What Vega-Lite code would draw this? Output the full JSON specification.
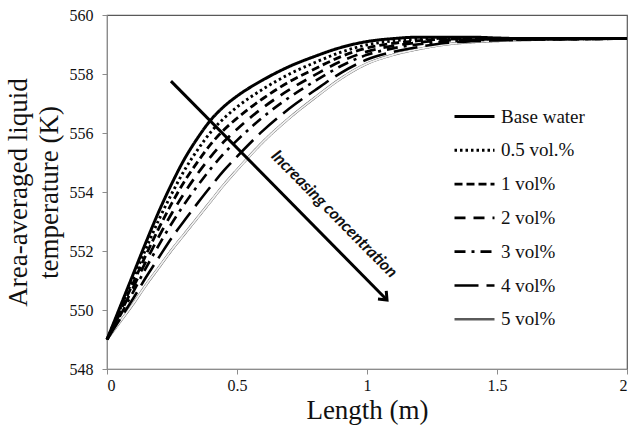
{
  "$schema": "https://vega.github.io/schema/vega-lite/v6.json",
  "width": 520,
  "height": 354,
  "autosize": {"type": "none"},
  "padding": {"left": 107, "top": 15, "right": 3, "bottom": 66},
  "config": {
    "view": {"stroke": "#595959", "strokeWidth": 1.2},
    "font": "Liberation Serif",
    "axis": {"grid": false, "domainColor": "#8c8c8c", "tickColor": "#8c8c8c", "tickSize": 5, "labelColor": "#111", "labelFont": "Liberation Serif", "labelFontSize": 16, "titleFont": "Liberation Serif", "titleFontSize": 27, "titleFontWeight": "normal", "titleColor": "#111"},
    "legend": {"orient": "none", "legendX": 346, "legendY": 80, "symbolType": "stroke", "symbolSize": 1600, "labelFont": "Liberation Serif", "labelFontSize": 19, "labelColor": "#111", "labelOffset": 5, "rowPadding": 1.8, "labelLimit": 200}
  },
  "datasets": {
    "curves": [
      {"series": "5 vol%", "length": 0, "temp": 549.0},
      {"series": "5 vol%", "length": 0.05, "temp": 549.6},
      {"series": "5 vol%", "length": 0.1, "temp": 550.2},
      {"series": "5 vol%", "length": 0.15, "temp": 550.85},
      {"series": "5 vol%", "length": 0.2, "temp": 551.45},
      {"series": "5 vol%", "length": 0.25, "temp": 552.05},
      {"series": "5 vol%", "length": 0.3, "temp": 552.6},
      {"series": "5 vol%", "length": 0.35, "temp": 553.15},
      {"series": "5 vol%", "length": 0.4, "temp": 553.7},
      {"series": "5 vol%", "length": 0.45, "temp": 554.25},
      {"series": "5 vol%", "length": 0.5, "temp": 554.75},
      {"series": "5 vol%", "length": 0.6, "temp": 555.7},
      {"series": "5 vol%", "length": 0.7, "temp": 556.5},
      {"series": "5 vol%", "length": 0.8, "temp": 557.2},
      {"series": "5 vol%", "length": 0.9, "temp": 557.85},
      {"series": "5 vol%", "length": 1.0, "temp": 558.35},
      {"series": "5 vol%", "length": 1.1, "temp": 558.65},
      {"series": "5 vol%", "length": 1.2, "temp": 558.85},
      {"series": "5 vol%", "length": 1.3, "temp": 559.0},
      {"series": "5 vol%", "length": 1.4, "temp": 559.08},
      {"series": "5 vol%", "length": 1.5, "temp": 559.12},
      {"series": "5 vol%", "length": 1.6, "temp": 559.15},
      {"series": "5 vol%", "length": 1.8, "temp": 559.18},
      {"series": "5 vol%", "length": 2.0, "temp": 559.2},

      {"series": "4 vol%", "length": 0, "temp": 549.0},
      {"series": "4 vol%", "length": 0.05, "temp": 549.69},
      {"series": "4 vol%", "length": 0.1, "temp": 550.38},
      {"series": "4 vol%", "length": 0.15, "temp": 551.11},
      {"series": "4 vol%", "length": 0.2, "temp": 551.79},
      {"series": "4 vol%", "length": 0.25, "temp": 552.46},
      {"series": "4 vol%", "length": 0.3, "temp": 553.06},
      {"series": "4 vol%", "length": 0.35, "temp": 553.64},
      {"series": "4 vol%", "length": 0.4, "temp": 554.2},
      {"series": "4 vol%", "length": 0.45, "temp": 554.73},
      {"series": "4 vol%", "length": 0.5, "temp": 555.2},
      {"series": "4 vol%", "length": 0.6, "temp": 556.08},
      {"series": "4 vol%", "length": 0.7, "temp": 556.82},
      {"series": "4 vol%", "length": 0.8, "temp": 557.45},
      {"series": "4 vol%", "length": 0.9, "temp": 558.04},
      {"series": "4 vol%", "length": 1.0, "temp": 558.49},
      {"series": "4 vol%", "length": 1.1, "temp": 558.75},
      {"series": "4 vol%", "length": 1.2, "temp": 558.92},
      {"series": "4 vol%", "length": 1.3, "temp": 559.05},
      {"series": "4 vol%", "length": 1.4, "temp": 559.11},
      {"series": "4 vol%", "length": 1.5, "temp": 559.14},
      {"series": "4 vol%", "length": 1.6, "temp": 559.16},
      {"series": "4 vol%", "length": 1.8, "temp": 559.18},
      {"series": "4 vol%", "length": 2.0, "temp": 559.2},

      {"series": "3 vol%", "length": 0, "temp": 549.0},
      {"series": "3 vol%", "length": 0.05, "temp": 549.8},
      {"series": "3 vol%", "length": 0.1, "temp": 550.6},
      {"series": "3 vol%", "length": 0.15, "temp": 551.43},
      {"series": "3 vol%", "length": 0.2, "temp": 552.21},
      {"series": "3 vol%", "length": 0.25, "temp": 552.95},
      {"series": "3 vol%", "length": 0.3, "temp": 553.62},
      {"series": "3 vol%", "length": 0.35, "temp": 554.23},
      {"series": "3 vol%", "length": 0.4, "temp": 554.8},
      {"series": "3 vol%", "length": 0.45, "temp": 555.31},
      {"series": "3 vol%", "length": 0.5, "temp": 555.75},
      {"series": "3 vol%", "length": 0.6, "temp": 556.54},
      {"series": "3 vol%", "length": 0.7, "temp": 557.2},
      {"series": "3 vol%", "length": 0.8, "temp": 557.76},
      {"series": "3 vol%", "length": 0.9, "temp": 558.27},
      {"series": "3 vol%", "length": 1.0, "temp": 558.65},
      {"series": "3 vol%", "length": 1.1, "temp": 558.87},
      {"series": "3 vol%", "length": 1.2, "temp": 559.01},
      {"series": "3 vol%", "length": 1.3, "temp": 559.1},
      {"series": "3 vol%", "length": 1.4, "temp": 559.15},
      {"series": "3 vol%", "length": 1.5, "temp": 559.16},
      {"series": "3 vol%", "length": 1.6, "temp": 559.17},
      {"series": "3 vol%", "length": 1.8, "temp": 559.19},
      {"series": "3 vol%", "length": 2.0, "temp": 559.2},

      {"series": "2 vol%", "length": 0, "temp": 549.0},
      {"series": "2 vol%", "length": 0.05, "temp": 549.88},
      {"series": "2 vol%", "length": 0.1, "temp": 550.75},
      {"series": "2 vol%", "length": 0.15, "temp": 551.65},
      {"series": "2 vol%", "length": 0.2, "temp": 552.5},
      {"series": "2 vol%", "length": 0.25, "temp": 553.29},
      {"series": "2 vol%", "length": 0.3, "temp": 554.0},
      {"series": "2 vol%", "length": 0.35, "temp": 554.64},
      {"series": "2 vol%", "length": 0.4, "temp": 555.21},
      {"series": "2 vol%", "length": 0.45, "temp": 555.71},
      {"series": "2 vol%", "length": 0.5, "temp": 556.13},
      {"series": "2 vol%", "length": 0.6, "temp": 556.86},
      {"series": "2 vol%", "length": 0.7, "temp": 557.46},
      {"series": "2 vol%", "length": 0.8, "temp": 557.97},
      {"series": "2 vol%", "length": 0.9, "temp": 558.43},
      {"series": "2 vol%", "length": 1.0, "temp": 558.76},
      {"series": "2 vol%", "length": 1.1, "temp": 558.95},
      {"series": "2 vol%", "length": 1.2, "temp": 559.07},
      {"series": "2 vol%", "length": 1.3, "temp": 559.14},
      {"series": "2 vol%", "length": 1.4, "temp": 559.17},
      {"series": "2 vol%", "length": 1.5, "temp": 559.18},
      {"series": "2 vol%", "length": 1.6, "temp": 559.18},
      {"series": "2 vol%", "length": 1.8, "temp": 559.19},
      {"series": "2 vol%", "length": 2.0, "temp": 559.2},

      {"series": "1 vol%", "length": 0, "temp": 549.0},
      {"series": "1 vol%", "length": 0.05, "temp": 549.95},
      {"series": "1 vol%", "length": 0.1, "temp": 550.9},
      {"series": "1 vol%", "length": 0.15, "temp": 551.87},
      {"series": "1 vol%", "length": 0.2, "temp": 552.78},
      {"series": "1 vol%", "length": 0.25, "temp": 553.63},
      {"series": "1 vol%", "length": 0.3, "temp": 554.39},
      {"series": "1 vol%", "length": 0.35, "temp": 555.04},
      {"series": "1 vol%", "length": 0.4, "temp": 555.63},
      {"series": "1 vol%", "length": 0.45, "temp": 556.11},
      {"series": "1 vol%", "length": 0.5, "temp": 556.5},
      {"series": "1 vol%", "length": 0.6, "temp": 557.17},
      {"series": "1 vol%", "length": 0.7, "temp": 557.73},
      {"series": "1 vol%", "length": 0.8, "temp": 558.18},
      {"series": "1 vol%", "length": 0.9, "temp": 558.59},
      {"series": "1 vol%", "length": 1.0, "temp": 558.88},
      {"series": "1 vol%", "length": 1.1, "temp": 559.04},
      {"series": "1 vol%", "length": 1.2, "temp": 559.13},
      {"series": "1 vol%", "length": 1.3, "temp": 559.18},
      {"series": "1 vol%", "length": 1.4, "temp": 559.2},
      {"series": "1 vol%", "length": 1.5, "temp": 559.19},
      {"series": "1 vol%", "length": 1.6, "temp": 559.19},
      {"series": "1 vol%", "length": 1.8, "temp": 559.19},
      {"series": "1 vol%", "length": 2.0, "temp": 559.2},

      {"series": "0.5 vol.%", "length": 0, "temp": 549.0},
      {"series": "0.5 vol.%", "length": 0.05, "temp": 550.03},
      {"series": "0.5 vol.%", "length": 0.1, "temp": 551.05},
      {"series": "0.5 vol.%", "length": 0.15, "temp": 552.08},
      {"series": "0.5 vol.%", "length": 0.2, "temp": 553.07},
      {"series": "0.5 vol.%", "length": 0.25, "temp": 553.96},
      {"series": "0.5 vol.%", "length": 0.3, "temp": 554.77},
      {"series": "0.5 vol.%", "length": 0.35, "temp": 555.45},
      {"series": "0.5 vol.%", "length": 0.4, "temp": 556.04},
      {"series": "0.5 vol.%", "length": 0.45, "temp": 556.5},
      {"series": "0.5 vol.%", "length": 0.5, "temp": 556.88},
      {"series": "0.5 vol.%", "length": 0.6, "temp": 557.49},
      {"series": "0.5 vol.%", "length": 0.7, "temp": 557.99},
      {"series": "0.5 vol.%", "length": 0.8, "temp": 558.39},
      {"series": "0.5 vol.%", "length": 0.9, "temp": 558.74},
      {"series": "0.5 vol.%", "length": 1.0, "temp": 558.99},
      {"series": "0.5 vol.%", "length": 1.1, "temp": 559.12},
      {"series": "0.5 vol.%", "length": 1.2, "temp": 559.19},
      {"series": "0.5 vol.%", "length": 1.3, "temp": 559.21},
      {"series": "0.5 vol.%", "length": 1.4, "temp": 559.22},
      {"series": "0.5 vol.%", "length": 1.5, "temp": 559.2},
      {"series": "0.5 vol.%", "length": 1.6, "temp": 559.19},
      {"series": "0.5 vol.%", "length": 1.8, "temp": 559.2},
      {"series": "0.5 vol.%", "length": 2.0, "temp": 559.2},

      {"series": "Base water", "length": 0, "temp": 549.0},
      {"series": "Base water", "length": 0.05, "temp": 550.1},
      {"series": "Base water", "length": 0.1, "temp": 551.2},
      {"series": "Base water", "length": 0.15, "temp": 552.3},
      {"series": "Base water", "length": 0.2, "temp": 553.35},
      {"series": "Base water", "length": 0.25, "temp": 554.3},
      {"series": "Base water", "length": 0.3, "temp": 555.15},
      {"series": "Base water", "length": 0.35, "temp": 555.85},
      {"series": "Base water", "length": 0.4, "temp": 556.45},
      {"series": "Base water", "length": 0.45, "temp": 556.9},
      {"series": "Base water", "length": 0.5, "temp": 557.25},
      {"series": "Base water", "length": 0.6, "temp": 557.8},
      {"series": "Base water", "length": 0.7, "temp": 558.25},
      {"series": "Base water", "length": 0.8, "temp": 558.6},
      {"series": "Base water", "length": 0.9, "temp": 558.9},
      {"series": "Base water", "length": 1.0, "temp": 559.1},
      {"series": "Base water", "length": 1.1, "temp": 559.2},
      {"series": "Base water", "length": 1.2, "temp": 559.25},
      {"series": "Base water", "length": 1.3, "temp": 559.25},
      {"series": "Base water", "length": 1.4, "temp": 559.25},
      {"series": "Base water", "length": 1.5, "temp": 559.22},
      {"series": "Base water", "length": 1.6, "temp": 559.2},
      {"series": "Base water", "length": 1.8, "temp": 559.2},
      {"series": "Base water", "length": 2.0, "temp": 559.2}
    ],
    "arrow": [
      {"length": 0.246, "temp": 557.76},
      {"length": 1.077, "temp": 550.34}
    ],
    "arrowhead": [
      {"length": 1.077, "temp": 550.34}
    ],
    "note": [
      {"length": 0.873, "temp": 553.25, "label": "Increasing concentration"}
    ]
  },
  "encoding": {
    "x": {"field": "length", "type": "quantitative", "scale": {"domain": [0, 2], "nice": false}, "axis": {"title": "Length (m)", "values": [0, 0.5, 1, 1.5, 2], "format": "~g", "labelPadding": 3, "titlePadding": 4}},
    "y": {"field": "temp", "type": "quantitative", "scale": {"domain": [548, 560], "nice": false, "zero": false}, "axis": {"title": ["Area-averaged liquid", "temperature (K)"], "titleLineHeight": 31, "values": [548, 550, 552, 554, 556, 558, 560], "labelPadding": 9, "titlePadding": 6}}
  },
  "layer": [
    {
      "data": {"name": "curves"},
      "transform": [{"filter": "datum.series == '5 vol%'"}],
      "mark": {"type": "line", "interpolate": "monotone"},
      "encoding": {
        "stroke": {"field": "series", "type": "nominal", "scale": {"domain": ["Base water", "0.5 vol.%", "1 vol%", "2 vol%", "3 vol%", "4 vol%", "5 vol%"], "range": ["#000", "#000", "#000", "#000", "#000", "#000", "#5a5a5a"]}, "legend": {"title": null}},
        "strokeDash": {"field": "series", "type": "nominal", "scale": {"domain": ["Base water", "0.5 vol.%", "1 vol%", "2 vol%", "3 vol%", "4 vol%", "5 vol%"], "range": [[1, 0], [2.5, 3], [8, 4], [11, 8], [11, 6, 3, 6], [24, 8], [1, 0]]}, "legend": {"title": null}},
        "strokeWidth": {"field": "series", "type": "nominal", "scale": {"domain": ["Base water", "0.5 vol.%", "1 vol%", "2 vol%", "3 vol%", "4 vol%", "5 vol%"], "range": [3, 2.5, 3.5, 3.5, 3, 3.5, 4.2]}, "legend": {"title": null}}
      }
    },
    {
      "data": {"name": "curves"},
      "transform": [{"filter": "datum.series == '5 vol%'"}],
      "mark": {"type": "line", "interpolate": "monotone", "stroke": "#f2f2f2", "strokeWidth": 1.8},
      "encoding": {"detail": {"field": "series"}}
    },
    {
      "data": {"name": "curves"},
      "transform": [{"filter": "datum.series != '5 vol%'"}],
      "mark": {"type": "line", "interpolate": "monotone"},
      "encoding": {
        "stroke": {"field": "series", "type": "nominal", "legend": {"title": null}},
        "strokeDash": {"field": "series", "type": "nominal", "legend": {"title": null}},
        "strokeWidth": {"field": "series", "type": "nominal", "legend": {"title": null}}
      }
    },
    {
      "data": {"name": "arrow"},
      "mark": {"type": "line", "stroke": "#000", "strokeWidth": 3},
      "encoding": {}
    },
    {
      "data": {"name": "arrowhead"},
      "mark": {"type": "point", "shape": "M -0.9 -0.75 L 0 0 L -0.9 0.75", "filled": false, "stroke": "#000", "strokeWidth": 3, "size": 240, "angle": 45.3, "opacity": 1},
      "encoding": {}
    },
    {
      "data": {"name": "note"},
      "mark": {"type": "text", "font": "Lato", "fontWeight": "bold", "fontStyle": "italic", "fontSize": 16.5, "angle": 45.3, "align": "center", "baseline": "middle", "color": "#111"},
      "encoding": {"text": {"field": "label"}}
    }
  ],
  "resolve": {"scale": {"stroke": "shared", "strokeDash": "shared", "strokeWidth": "shared"}}
}
